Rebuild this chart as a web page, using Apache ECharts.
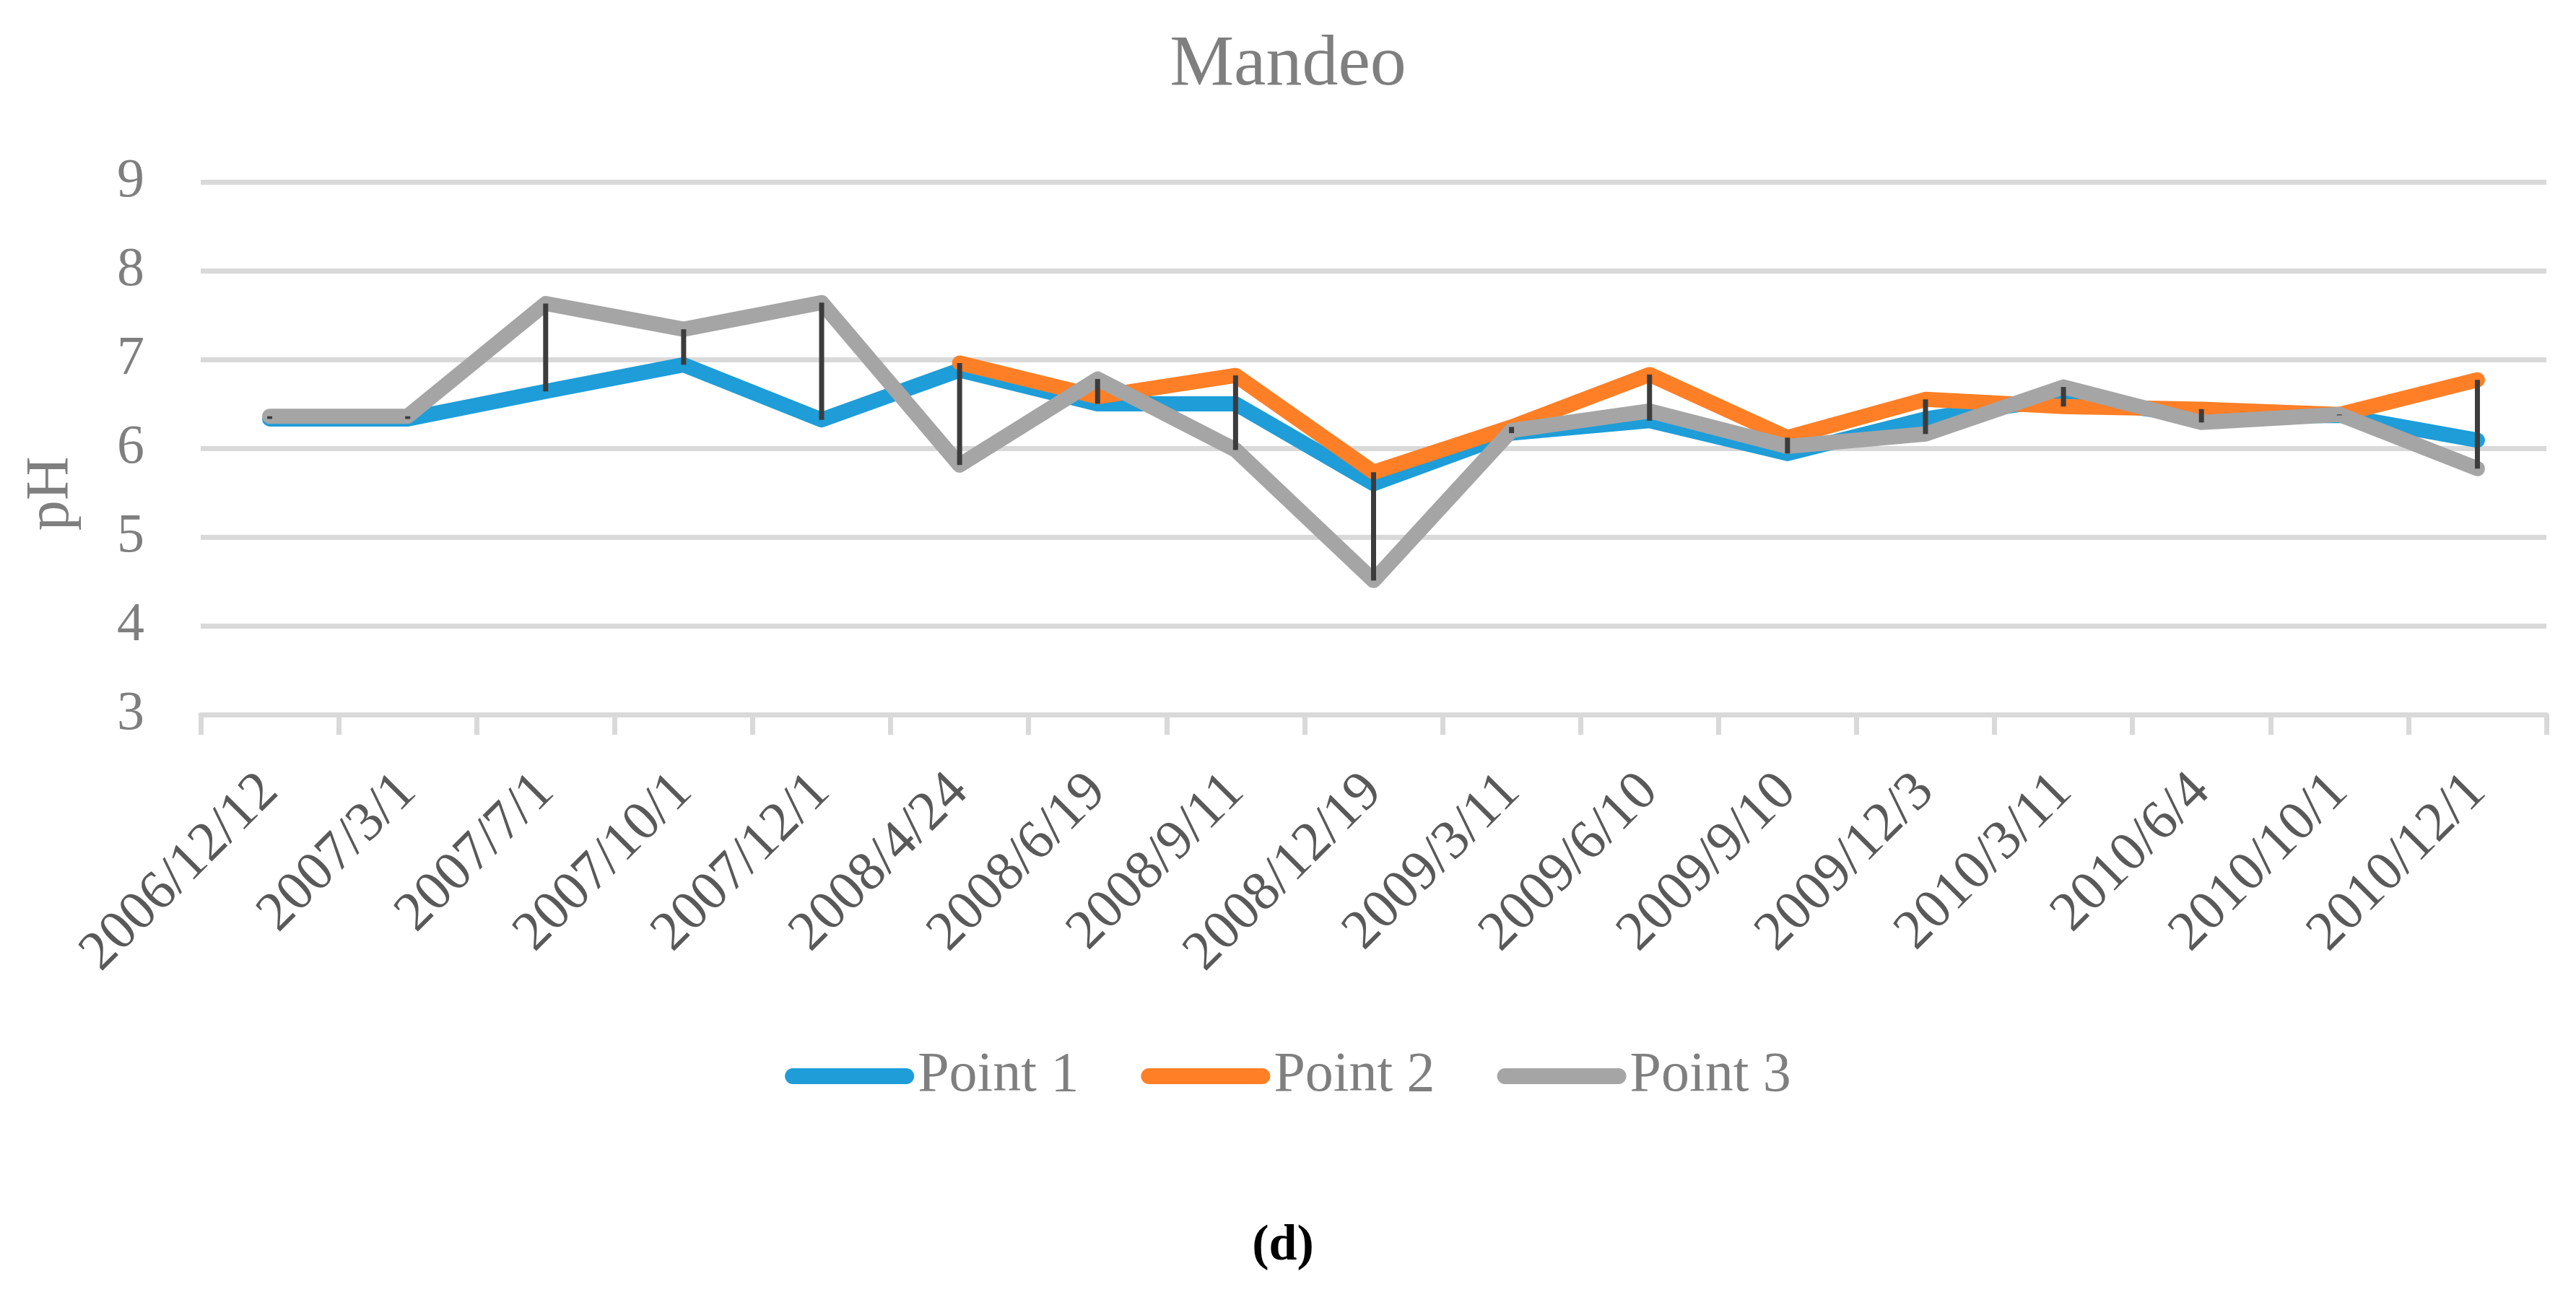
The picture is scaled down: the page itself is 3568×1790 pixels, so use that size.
<!DOCTYPE html>
<html>
<head>
<meta charset="utf-8">
<script src="https://cdn.jsdelivr.net/npm/echarts@6/dist/echarts.min.js"></script>
<style>
html,body{margin:0;padding:0;background:#fff;}
#chart{width:3568px;height:1790px;}
</style>
</head>
<body>
<div id="chart"></div>
<script>
const categories = ['2006/12/12','2007/3/1','2007/7/1','2007/10/1','2007/12/1','2008/4/24','2008/6/19','2008/9/11','2008/12/19','2009/3/11','2009/6/10','2009/9/10','2009/12/3','2010/3/11','2010/6/4','2010/10/1','2010/12/1'];
const point1 = [6.33, 6.33, 6.64, 6.94, 6.32, 6.88, 6.50, 6.50, 5.60, 6.17, 6.31, 5.94, 6.33, 6.57, 6.36, 6.37, 6.09];
const point2 = [null, null, null, null, null, 6.96, 6.58, 6.82, 5.73, 6.24, 6.83, 6.12, 6.55, 6.47, 6.44, 6.38, 6.77];
const point3 = [6.36, 6.36, 7.63, 7.34, 7.64, 5.81, 6.78, 5.98, 4.51, 6.20, 6.42, 6.02, 6.16, 6.69, 6.29, 6.38, 5.77];
const yTicks = [3, 4, 5, 6, 7, 8, 9];
const seriesNames = ['Point 1', 'Point 2', 'Point 3'];

const FONT = '"Liberation Serif", "DejaVu Serif", serif';
const colors = ['#1E9DD8', '#FE7F26', '#A5A5A5'];

const highLow = categories.map((c, i) => {
  const vals = [point1[i], point2[i], point3[i]].filter(v => v !== null && v !== undefined);
  return [i, Math.min.apply(null, vals), Math.max.apply(null, vals)];
});

const chart = echarts.init(document.getElementById('chart'), null, {renderer: 'canvas'});
const pill = 'path://M11,0 L168,0 A11,11 0 0 1 168,22 L11,22 A11,11 0 0 1 11,0 Z';

const lineSeries = [point1, point2, point3].map((d, k) => ({
  name: seriesNames[k],
  type: 'line',
  data: d,
  symbol: 'none',
  smooth: false,
  z: 2 + k,
  lineStyle: {color: colors[k], width: 21, cap: 'round', join: 'round'},
  itemStyle: {color: colors[k]},
  emphasis: {disabled: true}
}));

chart.setOption({
  animation: false,
  backgroundColor: '#ffffff',
  title: {
    text: 'Mandeo',
    left: 'center',
    top: 36,
    textStyle: {fontFamily: FONT, fontSize: 100, fontWeight: 'normal', color: '#7F7F7F'}
  },
  legend: {
    data: seriesNames.map(n => ({name: n, icon: pill})),
    left: 'center',
    top: 1447,
    itemWidth: 179,
    itemHeight: 22,
    itemGap: 86,
    textStyle: {fontFamily: FONT, fontSize: 78, color: '#7F7F7F'}
  },
  grid: {left: 278, right: 41, top: 252, bottom: 800, containLabel: false},
  xAxis: {
    type: 'category',
    data: categories,
    boundaryGap: true,
    axisLine: {show: true, lineStyle: {color: '#D9D9D9', width: 7}},
    axisTick: {show: true, alignWithLabel: false, interval: 0, length: 28, lineStyle: {color: '#D9D9D9', width: 7}},
    axisLabel: {interval: 0, rotate: 45, margin: 95, fontFamily: FONT, fontSize: 77, color: '#595959'},
    splitLine: {show: false}
  },
  yAxis: {
    type: 'value',
    min: yTicks[0],
    max: yTicks[yTicks.length - 1],
    interval: 1,
    axisLine: {show: false},
    axisTick: {show: false},
    axisLabel: {margin: 78, fontFamily: FONT, fontSize: 76, color: '#7F7F7F'},
    splitLine: {show: true, lineStyle: {color: '#D9D9D9', width: 7}}
  },
  graphic: [
    {
      type: 'text',
      x: 72, y: 684,
      rotation: Math.PI / 2,
      style: {text: 'pH', fontFamily: FONT, fontSize: 84, fill: '#7F7F7F', textAlign: 'center', textVerticalAlign: 'middle'}
    },
    {
      type: 'text',
      x: 1777, y: 1727,
      style: {text: '(d)', fontFamily: FONT, fontSize: 70, fontWeight: 'bold', fill: '#000000', textAlign: 'center', textVerticalAlign: 'middle'}
    }
  ],
  series: lineSeries.concat([{
    name: 'highlow',
    type: 'custom',
    data: highLow,
    encode: {x: 0, y: [1, 2]},
    z: 10,
    silent: true,
    renderItem: function (params, api) {
      const x = api.value(0);
      const p1 = api.coord([x, api.value(1)]);
      const p2 = api.coord([x, api.value(2)]);
      return {
        type: 'line',
        shape: {x1: p1[0], y1: p1[1], x2: p2[0], y2: p2[1]},
        style: {stroke: '#3C3C3C', lineWidth: 7, lineCap: 'butt'}
      };
    }
  }])
});
</script>
</body>
</html>
